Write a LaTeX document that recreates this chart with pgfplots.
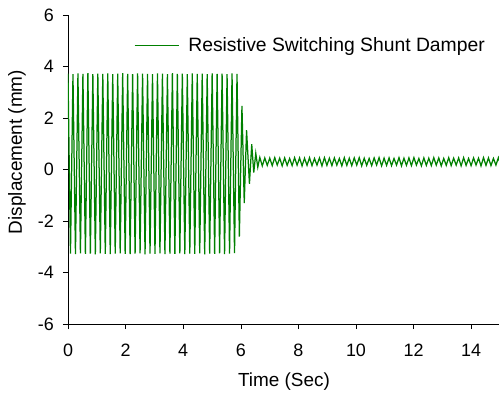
\documentclass[border=0pt]{standalone}
\usepackage{pgfplots}
\pgfplotsset{compat=1.18}
\usepackage{fontspec}
\setmainfont{Liberation Sans}
\definecolor{xlgreen}{RGB}{0,128,0}
\begin{document}
\begin{tikzpicture}
\useasboundingbox (-68bp,-70bp) rectangle (431bp,324bp);
\begin{axis}[
  at={(0,0)}, anchor=south west,
  scale only axis, width=432bp, height=309bp,
  xmin=0, xmax=15, ymin=-6, ymax=6,
  xtick={0,2,...,14}, ytick={-6,-4,...,6},
  axis x line*=bottom, axis y line*=left,
  axis line style={black, line width=0.6bp, -},
  tick align=outside, major tick length=5bp,
  tick style={black, line width=0.6bp},
  /pgf/number format/assume math mode=true,
  ticklabel style={font=\fontsize{18}{20}\selectfont},
  xticklabel style={inner sep=0pt, yshift=-15bp},
  yticklabel style={inner sep=0pt, xshift=-9bp},
  label style={font=\fontsize{19}{22}\selectfont},
  xlabel={Time (Sec)},
  ylabel={Displacement (mm)},
  xlabel style={at={(axis description cs:0.5,-0.1877)}, anchor=center},
  ylabel style={at={(axis description cs:-0.118,0.5566)}, anchor=center, rotate=0},
  legend style={draw=none, fill=none, at={(axis description cs:0.153,0.903)}, anchor=west,
    inner sep=0pt, font=\fontsize{19.4}{22}\selectfont},
  legend image code/.code={\draw[#1, line width=0.8bp] (0bp,0bp) -- (44bp,0bp); \path (51bp,0bp);},
]
\addplot[xlgreen, line width=1.25bp] coordinates {
(0,3.72) (0.0863,-3.27) (0.1726,3.70) (0.2589,-3.29) (0.3452,3.73) (0.4315,-3.26)
(0.5178,3.71) (0.6041,-3.28) (0.6904,3.74) (0.7767,-3.27) (0.863,3.70) (0.9493,-3.30)
(1.0356,3.72) (1.1219,-3.26) (1.2082,3.71) (1.2945,-3.28) (1.3808,3.73) (1.4671,-3.29)
(1.5534,3.70) (1.6397,-3.27) (1.726,3.72) (1.8123,-3.26) (1.8986,3.74) (1.9849,-3.28)
(2.0712,3.71) (2.1575,-3.29) (2.2438,3.70) (2.3301,-3.27) (2.4164,3.73) (2.5027,-3.26)
(2.589,3.72) (2.6753,-3.30) (2.7616,3.71) (2.8479,-3.27) (2.9342,3.70) (3.0205,-3.28)
(3.1068,3.73) (3.1931,-3.26) (3.2794,3.72) (3.3657,-3.29) (3.452,3.70) (3.5383,-3.27)
(3.6246,3.74) (3.7109,-3.28) (3.7972,3.71) (3.8835,-3.26) (3.9698,3.72) (4.0561,-3.29)
(4.1424,3.70) (4.2287,-3.27) (4.315,3.73) (4.4013,-3.28) (4.4876,3.71) (4.5739,-3.26)
(4.6602,3.72) (4.7465,-3.30) (4.8328,3.70) (4.9191,-3.27) (5.0054,3.73) (5.0917,-3.28)
(5.178,3.71) (5.2643,-3.26) (5.3506,3.72) (5.4369,-3.29) (5.5232,3.70) (5.6095,-3.27)
(5.6958,3.73) (5.7821,-3.25) (5.8684,3.71)
(5.95,-2.61) (6.04,2.47) (6.12,-1.31) (6.20,1.53) (6.30,-0.56) (6.38,0.98)
(6.45,-0.12) (6.52,0.63) (6.59,0.09)
(6.660,0.47) (6.746,0.14) (6.833,0.45) (6.919,0.16) (7.005,0.44) (7.092,0.15)
(7.178,0.46) (7.264,0.17) (7.350,0.44) (7.437,0.14) (7.523,0.45) (7.609,0.16)
(7.696,0.43) (7.782,0.15) (7.868,0.46) (7.955,0.17) (8.041,0.45) (8.127,0.14)
(8.213,0.44) (8.300,0.16) (8.386,0.46) (8.472,0.15) (8.559,0.43) (8.645,0.17)
(8.731,0.45) (8.818,0.14) (8.904,0.46) (8.990,0.16) (9.076,0.44) (9.163,0.15)
(9.249,0.45) (9.335,0.17) (9.422,0.43) (9.508,0.14) (9.594,0.46) (9.681,0.16)
(9.767,0.44) (9.853,0.15) (9.939,0.45) (10.026,0.17) (10.112,0.46) (10.198,0.14)
(10.285,0.44) (10.371,0.16) (10.457,0.43) (10.544,0.15) (10.630,0.45) (10.716,0.17)
(10.802,0.46) (10.889,0.14) (10.975,0.44) (11.061,0.16) (11.148,0.45) (11.234,0.15)
(11.320,0.43) (11.407,0.17) (11.493,0.46) (11.579,0.14) (11.665,0.44) (11.752,0.16)
(11.838,0.45) (11.924,0.15) (12.011,0.46) (12.097,0.17) (12.183,0.43) (12.270,0.14)
(12.356,0.45) (12.442,0.16) (12.528,0.44) (12.615,0.15) (12.701,0.46) (12.787,0.17)
(12.874,0.45) (12.960,0.14) (13.046,0.43) (13.133,0.16) (13.219,0.46) (13.305,0.15)
(13.391,0.44) (13.478,0.17) (13.564,0.45) (13.650,0.14) (13.737,0.46) (13.823,0.16)
(13.909,0.43) (13.996,0.15) (14.082,0.45) (14.168,0.17) (14.254,0.44) (14.341,0.14)
(14.427,0.46) (14.513,0.16) (14.600,0.45) (14.686,0.15) (14.772,0.43) (14.859,0.17)
(14.945,0.46) (15.031,0.15)
};
\addlegendentry{Resistive Switching Shunt Damper}
\end{axis}
\end{tikzpicture}
\end{document}
